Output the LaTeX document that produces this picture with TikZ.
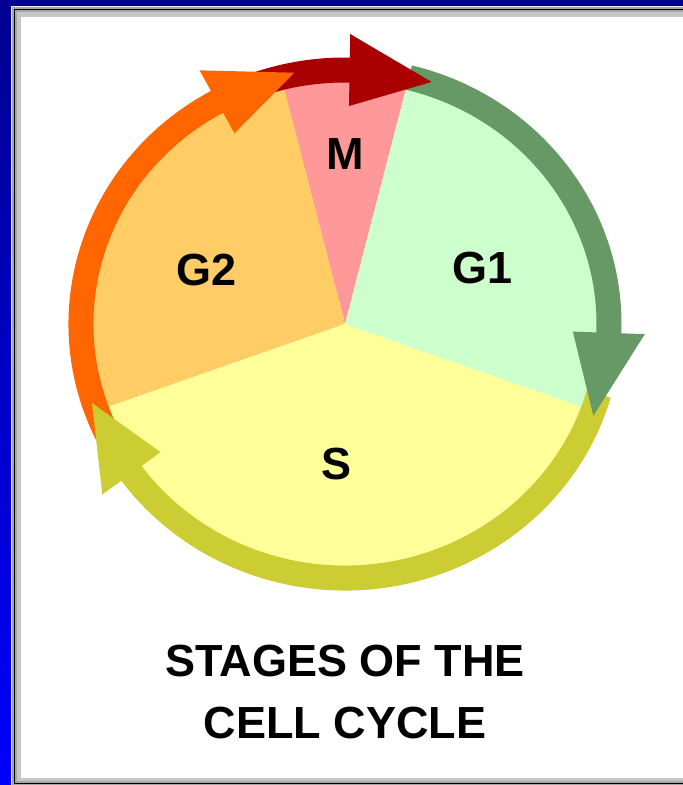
\documentclass[tikz,border=0pt]{standalone}
\usepackage{fontspec}
\setmainfont{Liberation Sans}
\usetikzlibrary{calc}
\definecolor{SlideBlue}{HTML}{0000FF}
\definecolor{SlideNavy}{HTML}{000090}
\definecolor{SliceM}{HTML}{FF9999}
\definecolor{SliceGone}{HTML}{CCFFCC}
\definecolor{SliceS}{HTML}{FFFF99}
\definecolor{SliceGtwo}{HTML}{FFCC66}
\definecolor{RingM}{HTML}{AA0000}
\definecolor{RingGone}{HTML}{669966}
\definecolor{RingS}{HTML}{CCCC33}
\definecolor{RingGtwo}{HTML}{FF6600}
\tikzset{
  phase/.style={font=\fontsize{45}{62}\selectfont\bfseries, inner sep=0pt, align=center},
  band/.style={line width=25pt},
}
% head of a ring arrow: colour, tip angle, base angle
\newcommand{\ringhead}[3]{%
  \fill[#1] ($(c)+(#3:300 and 290)$) -- ($(c)+(#2:266 and 256)$)
    -- ($(c)+(#3:228 and 218)$) -- cycle;}

\begin{document}
\begin{tikzpicture}[x=1pt, y=1pt]
  \useasboundingbox (0,0) rectangle (683,-785);
  % slide background and frame
  \shade[top color=SlideNavy, bottom color=SlideBlue] (0,0) rectangle (683,-785);
  \fill[SlideNavy] (0,0) rectangle (683,-6);
  \fill[white!85!gray] (11,-6) rectangle (690,-790);
  \fill[gray!70] (12,-7) rectangle (690,-786);
  \draw[black, line width=1.2pt] (14.5,-9.5) rectangle (695,-783.5);
  \fill[gray!45] (17,-12) rectangle (690,-781);
  \fill[white] (21,-17) rectangle (690,-778);

  \coordinate (c) at (345,-324);

  % pie slices
  \fill[SliceM] (c) -- ($(c)+(76:258 and 248)$)
    arc[start angle=76, end angle=104, x radius=258, y radius=248] -- cycle;
  \fill[SliceGtwo] (c) -- ($(c)+(104:258 and 248)$)
    arc[start angle=104, end angle=200, x radius=258, y radius=248] -- cycle;
  \fill[SliceS] (c) -- ($(c)+(200:258 and 248)$)
    arc[start angle=200, end angle=340, x radius=258, y radius=248] -- cycle;
  \fill[SliceGone] (c) -- ($(c)+(-20:258 and 248)$)
    arc[start angle=-20, end angle=76, x radius=258, y radius=248] -- cycle;

  % ring shafts
  \draw[band, RingM] ($(c)+(112:264 and 254)$)
    arc[start angle=112, end angle=88, x radius=264, y radius=254];
  \draw[band, RingGone] ($(c)+(76:264 and 254)$)
    arc[start angle=76, end angle=-3, x radius=264, y radius=254];
  \draw[band, RingS] ($(c)+(-16:264 and 254)$)
    arc[start angle=-16, end angle=-145, x radius=264, y radius=254];
  \draw[band, RingGtwo] ($(c)+(206:264 and 254)$)
    arc[start angle=206, end angle=118, x radius=264, y radius=254];

  % ring heads
  \ringhead{RingM}{71}{89}
  \ringhead{RingGone}{-21}{-2}
  \ringhead{RingS}{198}{216}
  \ringhead{RingGtwo}{101}{119}

  % labels
  \node[phase] (m) at (345,-154) {M};
  \node[phase] (gone) at (483,-268) {G1};
  \node[phase] (gtwo) at (207,-270) {G2};
  \node[phase] (s) at (337,-464) {S};
  \node[phase] (title) at (345,-692) {STAGES OF THE\\CELL CYCLE};
\end{tikzpicture}
\end{document}
